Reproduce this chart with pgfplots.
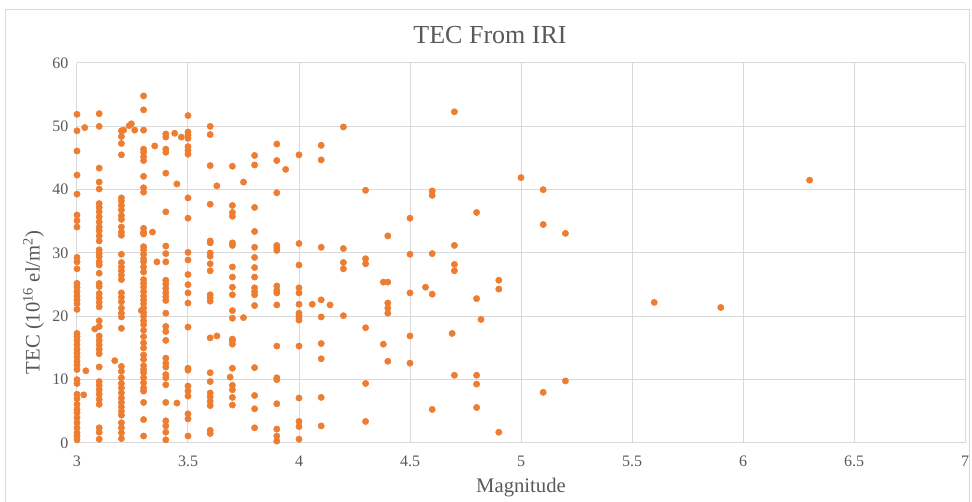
\documentclass[border=0pt]{standalone}
\usepackage{pgfplots}
\pgfplotsset{compat=1.18}
\usepackage{fontspec}
\setmainfont{Liberation Serif}
\definecolor{dotc}{RGB}{237,125,49}
\definecolor{gridc}{RGB}{217,217,217}
\definecolor{txtc}{RGB}{89,89,89}
\definecolor{framec}{RGB}{217,217,217}
\begin{document}
\begin{tikzpicture}[x=0.75pt,y=0.75pt]
\path[use as bounding box] (0,0) rectangle (972,502);
\draw[framec,line width=0.75pt] (5,-5) -- (5,492) -- (969,492) -- (969,-5);
\node[txtc,font=\fontsize{19.5}{22}\selectfont] at (490,467) {TEC From IRI};
\begin{axis}[
  at={(57.75pt,44.25pt)}, anchor=south west,
  scale only axis, width=666pt, height=285pt,
  xmin=3, xmax=7, ymin=0, ymax=60,
  xtick distance=0.5, ytick distance=10,
  grid=major, major grid style={gridc, line width=0.75pt},
  axis line style={draw=none},
  major tick length=0pt,
  /pgf/number format/assume math mode=true,
  tick label style={txtc, font=\fontsize{12}{14}\selectfont},
  xticklabel style={yshift=-6pt},
  yticklabel style={xshift=-3pt},
  xlabel={Magnitude},
  ylabel={TEC (10\textsuperscript{16} el/m\textsuperscript{2})},
  label style={txtc, font=\fontsize{15.5}{18}\selectfont},
  xlabel style={at={(axis description cs:0.5,-0.08)}, anchor=north},
  ylabel style={at={(axis description cs:-0.049,0.37)}, anchor=center},
  clip=false,
]
\addplot[only marks, mark=*, mark size=2.35pt, dotc, mark options={draw=dotc, fill=dotc}] table {
x y
3.0 51.9
3.0 49.3
3.0 46.1
3.0 42.3
3.0 39.3
3.0 36.0
3.0 35.1
3.0 34.1
3.0 29.3
3.0 28.6
3.0 27.5
3.0 25.2
3.0 24.6
3.0 23.9
3.0 23.2
3.0 22.6
3.0 22.0
3.0 21.1
3.0 17.3
3.0 16.8
3.0 16.2
3.0 15.5
3.0 14.8
3.0 14.2
3.0 13.6
3.0 12.9
3.0 12.3
3.0 11.6
3.0 10.0
3.0 9.4
3.0 7.7
3.0 7.0
3.0 6.1
3.0 5.3
3.0 4.8
3.0 4.0
3.0 3.2
3.0 2.4
3.0 1.6
3.0 1.1
3.0 0.5
3.035 49.8
3.04 11.4
3.03 7.6
3.1 52.0
3.1 50.0
3.1 43.4
3.1 41.2
3.1 40.1
3.1 37.8
3.1 37.2
3.1 36.5
3.1 35.7
3.1 34.9
3.1 34.1
3.1 33.5
3.1 32.7
3.1 31.9
3.1 30.5
3.1 29.9
3.1 29.4
3.1 28.6
3.1 28.1
3.1 26.8
3.1 25.2
3.1 24.7
3.1 23.6
3.1 22.9
3.1 22.2
3.1 21.5
3.1 19.3
3.1 18.4
3.1 16.9
3.1 16.2
3.1 15.5
3.1 14.8
3.1 14.1
3.1 12.0
3.1 9.7
3.1 9.1
3.1 8.4
3.1 7.7
3.1 6.9
3.1 6.1
3.1 2.4
3.1 1.7
3.1 0.6
3.08 18.0
3.17 13.0
3.2 49.3
3.2 48.4
3.2 47.3
3.2 45.5
3.2 38.7
3.2 38.2
3.2 37.5
3.2 36.8
3.2 35.9
3.2 35.3
3.2 34.1
3.2 33.3
3.2 32.8
3.2 29.8
3.2 28.5
3.2 27.8
3.2 27.2
3.2 26.5
3.2 25.8
3.2 23.7
3.2 23.0
3.2 22.3
3.2 21.3
3.2 20.5
3.2 19.9
3.2 18.1
3.2 12.1
3.2 11.3
3.2 10.3
3.2 9.4
3.2 8.7
3.2 7.9
3.2 7.1
3.2 6.4
3.2 5.7
3.2 5.0
3.2 4.4
3.2 3.2
3.2 2.4
3.2 1.6
3.2 0.7
3.21 49.4
3.235 50.1
3.245 50.4
3.26 49.4
3.3 54.8
3.3 52.6
3.3 49.4
3.3 46.4
3.3 45.9
3.3 45.2
3.3 44.6
3.3 42.1
3.3 40.3
3.3 39.6
3.3 33.9
3.3 33.3
3.3 33.0
3.3 31.0
3.3 30.5
3.3 29.8
3.3 29.1
3.3 28.6
3.3 27.8
3.3 27.0
3.3 25.8
3.3 25.2
3.3 24.6
3.3 23.9
3.3 23.2
3.3 22.6
3.3 22.0
3.3 21.3
3.3 20.6
3.3 20.0
3.3 19.3
3.3 18.7
3.3 17.8
3.3 16.8
3.3 15.8
3.3 15.0
3.3 13.9
3.3 13.2
3.3 12.2
3.3 11.6
3.3 11.1
3.3 10.3
3.3 9.5
3.3 8.7
3.3 8.2
3.3 6.4
3.3 3.7
3.3 1.1
3.29 20.9
3.34 33.3
3.35 46.9
3.36 28.6
3.4 48.8
3.4 48.3
3.4 46.4
3.4 45.9
3.4 42.6
3.4 36.5
3.4 31.1
3.4 29.9
3.4 28.6
3.4 25.7
3.4 25.1
3.4 24.4
3.4 23.7
3.4 23.1
3.4 22.5
3.4 20.5
3.4 18.4
3.4 17.6
3.4 16.2
3.4 13.4
3.4 12.6
3.4 12.0
3.4 10.8
3.4 10.3
3.4 9.2
3.4 6.4
3.4 3.5
3.4 2.7
3.4 1.7
3.4 0.5
3.44 48.9
3.47 48.3
3.45 40.9
3.45 6.3
3.5 51.7
3.5 49.1
3.5 48.6
3.5 48.1
3.5 46.8
3.5 46.2
3.5 45.6
3.5 38.7
3.5 35.5
3.5 30.1
3.5 28.9
3.5 26.6
3.5 25.0
3.5 23.7
3.5 22.1
3.5 18.3
3.5 11.8
3.5 11.5
3.5 9.0
3.5 8.2
3.5 7.4
3.5 4.6
3.5 3.8
3.5 1.1
3.6 50.0
3.6 48.7
3.6 43.8
3.6 37.7
3.6 31.9
3.6 31.6
3.6 30.0
3.6 29.5
3.6 28.3
3.6 27.2
3.6 23.4
3.6 22.9
3.6 22.4
3.6 16.6
3.6 11.1
3.6 9.7
3.6 7.9
3.6 7.3
3.6 6.6
3.6 5.9
3.6 2.0
3.6 1.5
3.63 40.6
3.63 16.9
3.7 43.7
3.7 37.5
3.7 36.4
3.7 35.8
3.7 31.6
3.7 31.2
3.7 27.8
3.7 26.2
3.7 24.6
3.7 23.4
3.7 20.9
3.7 19.7
3.7 16.4
3.7 16.1
3.7 15.6
3.7 11.8
3.7 9.1
3.7 8.4
3.7 7.2
3.7 6.0
3.69 10.4
3.75 41.2
3.75 19.8
3.8 45.4
3.8 43.9
3.8 37.2
3.8 33.4
3.8 30.9
3.8 29.3
3.8 27.7
3.8 26.2
3.8 24.5
3.8 23.9
3.8 23.4
3.8 21.7
3.8 11.9
3.8 7.5
3.8 5.4
3.8 2.4
3.9 47.2
3.9 44.6
3.9 39.5
3.9 31.2
3.9 30.8
3.9 30.4
3.9 24.8
3.9 24.1
3.9 23.7
3.9 21.8
3.9 15.3
3.9 10.3
3.9 10.0
3.9 6.2
3.9 2.2
3.9 1.1
3.9 0.3
3.94 43.2
4.0 45.5
4.0 31.5
4.0 28.1
4.0 24.5
4.0 23.7
4.0 21.9
4.0 20.5
4.0 20.1
4.0 19.7
4.0 19.4
4.0 15.3
4.0 7.1
4.0 3.4
4.0 2.6
4.0 0.6
4.06 21.9
4.1 47.0
4.1 44.7
4.1 30.9
4.1 22.6
4.1 19.9
4.1 15.7
4.1 13.3
4.1 7.2
4.1 2.7
4.14 21.8
4.2 49.9
4.2 30.7
4.2 28.5
4.2 27.5
4.2 20.1
4.3 39.9
4.3 29.1
4.3 28.3
4.3 18.2
4.3 9.4
4.3 3.4
4.4 32.7
4.4 25.4
4.4 22.1
4.4 21.3
4.4 20.5
4.4 12.9
4.38 25.4
4.38 15.6
4.5 35.5
4.5 29.8
4.5 23.7
4.5 16.9
4.5 12.6
4.6 39.8
4.6 39.1
4.6 29.9
4.6 23.5
4.6 5.3
4.57 24.6
4.7 52.3
4.7 31.2
4.7 28.2
4.7 27.2
4.7 10.7
4.69 17.3
4.8 36.4
4.8 22.8
4.8 10.7
4.8 9.3
4.8 5.6
4.82 19.5
4.9 25.7
4.9 24.3
4.9 1.7
5.0 41.9
5.1 40.0
5.1 34.5
5.1 8.0
5.2 33.1
5.2 9.8
5.6 22.2
5.9 21.4
6.3 41.5
};
\end{axis}
\end{tikzpicture}
\end{document}
